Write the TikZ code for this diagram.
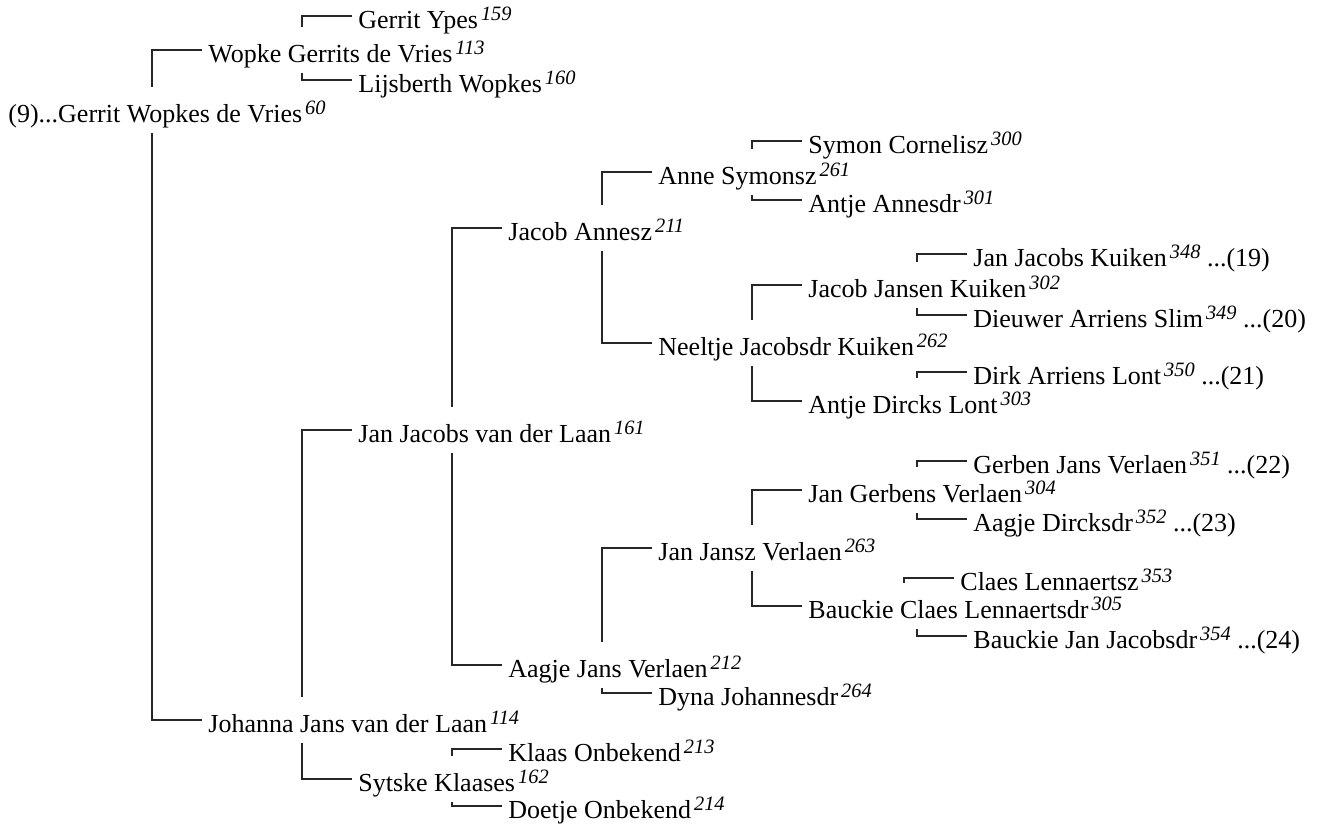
\documentclass[tikz,border=0pt]{standalone}
\usepackage{fontspec}
\setmainfont{Liberation Serif}
\usepackage{tikz}
\tikzstyle{person}=[anchor=west, inner xsep=3pt, inner ysep=3.5pt, text height=14pt, text depth=2pt, font=\fontsize{13}{15}\selectfont]
\tikzstyle{kinline}=[draw, line width=0.65pt, black!85]
\newcommand{\idx}[1]{\kern1.5pt\raisebox{3.8pt}{\fontsize{10.2}{12}\selectfont\itshape #1}}
\newcommand{\person}[3]{
	\node[person] (#1) at (#2) {#3};}
\newcommand{\fatherof}[2]{
	\draw[kinline] (#1.west) -| ([xshift=-25pt]#1.west |- #2.north);}
\newcommand{\motherof}[2]{
	\draw[kinline] (#1.west) -| ([xshift=-25pt]#1.west |- #2.south);}

\begin{document}
\begin{tikzpicture}[x=0.5pt, y=-0.5pt]
	\useasboundingbox (0,0) rectangle (1321,830);

	\person{gerrit}{2,110}{(9)...Gerrit Wopkes de Vries\idx{60}}

	\person{wopke}{202,50}{Wopke Gerrits de Vries\idx{113}}
	\person{johanna}{202,720}{Johanna Jans van der Laan\idx{114}}

	\person{ypes}{352,16}{Gerrit Ypes\idx{159}}
	\person{lijsberth}{352,80}{Lijsberth Wopkes\idx{160}}
	\person{janlaan}{352,430}{Jan Jacobs van der Laan\idx{161}}
	\person{sytske}{352,779}{Sytske Klaases\idx{162}}

	\person{jacob}{502,228}{Jacob Annesz\idx{211}}
	\person{aagjejans}{502,665}{Aagje Jans Verlaen\idx{212}}
	\person{klaas}{502,749}{Klaas Onbekend\idx{213}}
	\person{doetje}{502,806}{Doetje Onbekend\idx{214}}

	\person{anne}{652,172}{Anne Symonsz\idx{261}}
	\person{neeltje}{652,343}{Neeltje Jacobsdr Kuiken\idx{262}}
	\person{janjansz}{652,548}{Jan Jansz Verlaen\idx{263}}
	\person{dyna}{652,693}{Dyna Johannesdr\idx{264}}

	\person{symon}{802,141}{Symon Cornelisz\idx{300}}
	\person{antjeanne}{802,200}{Antje Annesdr\idx{301}}
	\person{jacobkuiken}{802,285}{Jacob Jansen Kuiken\idx{302}}
	\person{antjelont}{802,401}{Antje Dircks Lont\idx{303}}
	\person{jangerbens}{802,490}{Jan Gerbens Verlaen\idx{304}}
	\person{bauckieclaes}{802,606}{Bauckie Claes Lennaertsdr\idx{305}}

	\person{jankuiken}{967,254}{Jan Jacobs Kuiken\idx{348} ...(19)}
	\person{dieuwer}{967,315}{Dieuwer Arriens Slim\idx{349} ...(20)}
	\person{dirk}{967,372}{Dirk Arriens Lont\idx{350} ...(21)}
	\person{gerben}{967,461}{Gerben Jans Verlaen\idx{351} ...(22)}
	\person{aagjedirck}{967,519}{Aagje Dircksdr\idx{352} ...(23)}
	\person{claes}{954,578}{Claes Lennaertsz\idx{353}}
	\person{bauckiejan}{967,636}{Bauckie Jan Jacobsdr\idx{354} ...(24)}

	\fatherof{wopke}{gerrit}
	\motherof{johanna}{gerrit}
	\fatherof{ypes}{wopke}
	\motherof{lijsberth}{wopke}
	\fatherof{janlaan}{johanna}
	\motherof{sytske}{johanna}
	\fatherof{jacob}{janlaan}
	\motherof{aagjejans}{janlaan}
	\fatherof{klaas}{sytske}
	\motherof{doetje}{sytske}
	\fatherof{anne}{jacob}
	\motherof{neeltje}{jacob}
	\fatherof{janjansz}{aagjejans}
	\motherof{dyna}{aagjejans}
	\fatherof{symon}{anne}
	\motherof{antjeanne}{anne}
	\fatherof{jacobkuiken}{neeltje}
	\motherof{antjelont}{neeltje}
	\fatherof{jangerbens}{janjansz}
	\motherof{bauckieclaes}{janjansz}
	\fatherof{jankuiken}{jacobkuiken}
	\motherof{dieuwer}{jacobkuiken}
	\fatherof{dirk}{antjelont}
	\fatherof{gerben}{jangerbens}
	\motherof{aagjedirck}{jangerbens}
	\fatherof{claes}{bauckieclaes}
	\motherof{bauckiejan}{bauckieclaes}
\end{tikzpicture}
\end{document}
